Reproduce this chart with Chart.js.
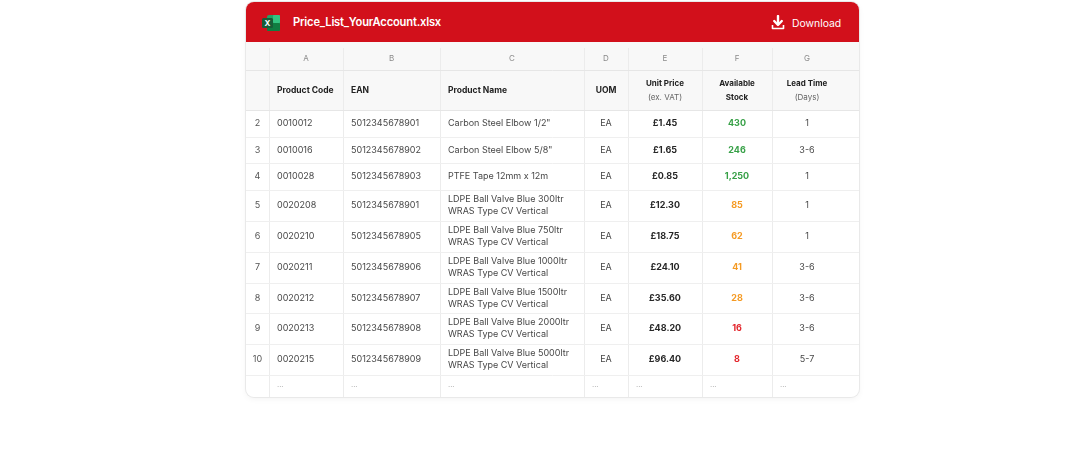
<!DOCTYPE html>
<html>
<head>
<meta charset="utf-8">
<script src="https://cdn.jsdelivr.net/npm/chart.js@4.4.1/dist/chart.umd.min.js"></script>
<style>
  html, body { margin: 0; padding: 0; background: #fff; }
  body { width: 1073px; height: 462px; position: relative; overflow: hidden; font-family: 'Inter', 'Noto Sans', sans-serif; }
  .card {
    position: absolute; left: 246px; top: 2px; width: 613px; height: 395px;
    border-radius: 8px; overflow: hidden; background: #fff;
    box-shadow: 0 0 0 1px #e9e9e9, 0 2px 6px rgba(0,0,0,0.05);
  }
  .bar {
    position: absolute; left: 0; top: 0; width: 613px; height: 40px; background: #d2101b;
    color: #fff;
  }
  .bar .xl { position: absolute; left: 15px; top: 11px; }
  .bar .title { position: absolute; left: 47px; top: 13px; font-size: 11.2px; font-weight: 600; letter-spacing: -0.2px; }
  .bar .dl { position: absolute; left: 525px; top: 13px; }
  .bar .dltext { position: absolute; left: 546px; top: 14.5px; font-size: 10.4px; font-weight: 400; }
  .sheet { position: absolute; left: 0; top: 40px; width: 613px; height: 355px; }
</style>
</head>
<body>
<div class="card">
  <div class="bar">
    <svg class="xl" width="20" height="20" viewBox="0 0 20 20">
      <rect x="6" y="2" width="13" height="16" rx="2" fill="#21a366"/>
      <rect x="12" y="2" width="7" height="8" rx="1" fill="#33c481"/>
      <rect x="6" y="10" width="13" height="8" rx="1" fill="#107c41"/>
      <rect x="1" y="5" width="11" height="10" rx="1.5" fill="#185c37"/>
      <text x="6.5" y="13" font-size="8" font-weight="700" fill="#fff" text-anchor="middle" font-family="Inter, sans-serif">X</text>
    </svg>
    <div class="title">Price_List_YourAccount.xlsx</div>
    <svg class="dl" width="14" height="15" viewBox="0 0 14 15">
      <path d="M7 1 V9" stroke="#fff" stroke-width="2.4" stroke-linecap="round"/>
      <path d="M3.2 6 L7 10 L10.8 6" fill="none" stroke="#fff" stroke-width="2.4" stroke-linecap="round" stroke-linejoin="round"/>
      <path d="M1.5 10 V13.5 H12.5 V10" fill="none" stroke="#fff" stroke-width="1.6" stroke-linejoin="round"/>
    </svg>
    <div class="dltext">Download</div>
  </div>
  <div class="sheet"><canvas id="sheet"></canvas></div>
</div>
<script>
// ---- sheet data ----
const colLetters = ['A', 'B', 'C', 'D', 'E', 'F', 'G'];
const headerLines = [
  ['Product Code'],
  ['EAN'],
  ['Product Name'],
  ['UOM'],
  ['Unit Price', '(ex. VAT)'],
  ['Available', 'Stock'],
  ['Lead Time', '(Days)']
];
const rowNumbers = [2, 3, 4, 5, 6, 7, 8, 9, 10];
const productCodes = ['0010012', '0010016', '0010028', '0020208', '0020210', '0020211', '0020212', '0020213', '0020215'];
const eans = ['5012345678901', '5012345678902', '5012345678903', '5012345678901', '5012345678905',
  '5012345678906', '5012345678907', '5012345678908', '5012345678909'];
const productNames = [
  'Carbon Steel Elbow 1/2"',
  'Carbon Steel Elbow 5/8"',
  'PTFE Tape 12mm x 12m',
  'LDPE Ball Valve Blue 300ltr\nWRAS Type CV Vertical',
  'LDPE Ball Valve Blue 750ltr\nWRAS Type CV Vertical',
  'LDPE Ball Valve Blue 1000ltr\nWRAS Type CV Vertical',
  'LDPE Ball Valve Blue 1500ltr\nWRAS Type CV Vertical',
  'LDPE Ball Valve Blue 2000ltr\nWRAS Type CV Vertical',
  'LDPE Ball Valve Blue 5000ltr\nWRAS Type CV Vertical'
];
const uoms = ['EA', 'EA', 'EA', 'EA', 'EA', 'EA', 'EA', 'EA', 'EA'];
const unitPrices = [1.45, 1.65, 0.85, 12.30, 18.75, 24.10, 35.60, 48.20, 96.40];
const stockLevels = [430, 246, 1250, 85, 62, 41, 28, 16, 8];
const leadTimes = ['1', '3-6', '1', '1', '1', '3-6', '3-6', '3-6', '5-7'];

// ---- layout (sheet units = css px) ----
const colWidths = [23, 74, 97, 144, 44, 74, 70, 70, 17]; // row no., A..G, filler
const letterRowH = 28, headerRowH = 40, oneLineH = 26.7, twoLineH = 30.8, moreRowH = 22;
const PAD = 8;
const letterLineTop = 6;

const colEdges = [0];
colWidths.forEach((w) => colEdges.push(colEdges[colEdges.length - 1] + w));
const rowEdges = [0, letterRowH, letterRowH + headerRowH];
productNames.forEach((n) => {
  const h = n.includes('\n') ? twoLineH : oneLineH;
  rowEdges.push(rowEdges[rowEdges.length - 1] + h);
});
rowEdges.push(rowEdges[rowEdges.length - 1] + moreRowH);
const totalW = colEdges[colEdges.length - 1];
const totalH = rowEdges[rowEdges.length - 1];

const FONT = "'Inter', 'Noto Sans', sans-serif";
const stockColor = (v) => (v >= 100 ? '#36a046' : v >= 20 ? '#f59a23' : '#e3242b');

// cell anchors for the body, one point per cell
const bodyCells = [];
rowNumbers.forEach((r, i) => {
  for (let c = 0; c <= 7; c++) bodyCells.push({ x: (colEdges[c] + colEdges[c + 1]) / 2, y: (rowEdges[i + 2] + rowEdges[i + 3]) / 2 });
});

const sheetPlugin = {
  id: 'sheet',
  beforeDatasetsDraw(chart) {
    const { ctx, scales: { x, y } } = chart;
    const px = (v) => x.getPixelForValue(v);
    const py = (v) => y.getPixelForValue(v);
    ctx.save();
    // header backgrounds
    ctx.fillStyle = '#f8f8f8';
    ctx.fillRect(px(0), py(0), px(totalW) - px(0), py(rowEdges[2]) - py(0));
    // grid lines
    ctx.lineWidth = 1;
    ctx.strokeStyle = '#ececec';
    for (let c = 1; c <= 7; c++) {
      const xx = Math.round(px(colEdges[c])) + 0.5;
      ctx.beginPath(); ctx.moveTo(xx, py(letterLineTop)); ctx.lineTo(xx, py(totalH)); ctx.stroke();
    }
    for (let r = 1; r < rowEdges.length - 1; r++) {
      const yy = Math.round(py(rowEdges[r])) + 0.5;
      ctx.strokeStyle = r <= 2 ? '#e6e6e6' : '#efefef';
      ctx.beginPath(); ctx.moveTo(px(0), yy); ctx.lineTo(px(totalW), yy); ctx.stroke();
    }
    ctx.restore();
  },
  afterDatasetsDraw(chart) {
    const { ctx, scales: { x, y } } = chart;
    const px = (v) => x.getPixelForValue(v);
    const py = (v) => y.getPixelForValue(v);
    const cx = (c) => px((colEdges[c] + colEdges[c + 1]) / 2);
    const lx = (c) => px(colEdges[c] + PAD);
    const cy = (r) => py((rowEdges[r] + rowEdges[r + 1]) / 2);
    ctx.save();
    ctx.textBaseline = 'middle';

    // column letters
    ctx.font = `400 8px ${FONT}`;
    ctx.fillStyle = '#8a8a8a';
    ctx.textAlign = 'center';
    colLetters.forEach((l, i) => ctx.fillText(l, cx(i + 1), py(16.5)));

    // header row
    headerLines.forEach((lines, i) => {
      const c = i + 1;
      const centered = c >= 4;
      ctx.textAlign = centered ? 'center' : 'left';
      const tx = centered ? cx(c) : lx(c);
      const mid = cy(1) + 0.5;
      if (lines.length === 1) {
        ctx.font = `700 8.5px ${FONT}`;
        ctx.fillStyle = '#222';
        ctx.fillText(lines[0], tx, mid);
      } else {
        ctx.font = `700 8px ${FONT}`;
        ctx.fillStyle = '#222';
        ctx.fillText(lines[0], tx, mid - 6.5);
        const sub = lines[1].startsWith('(');
        ctx.font = sub ? `400 8px ${FONT}` : `700 8px ${FONT}`;
        ctx.fillStyle = sub ? '#666' : '#222';
        ctx.fillText(lines[1], tx, mid + 7);
      }
    });

    // body rows
    rowNumbers.forEach((n, i) => {
      const r = i + 2;
      const mid = cy(r);
      ctx.font = `400 9px ${FONT}`;
      ctx.fillStyle = '#555';
      ctx.textAlign = 'center';
      ctx.fillText(String(n), cx(0), mid);

      ctx.fillStyle = '#474747';
      ctx.textAlign = 'left';
      ctx.fillText(productCodes[i], lx(1), mid);
      ctx.fillText(eans[i], lx(2), mid);
      const nameLines = productNames[i].split('\n');
      if (nameLines.length === 1) ctx.fillText(nameLines[0], lx(3), mid);
      else {
        ctx.fillText(nameLines[0], lx(3), mid - 6);
        ctx.fillText(nameLines[1], lx(3), mid + 6);
      }

      ctx.textAlign = 'center';
      ctx.fillText(uoms[i], cx(4), mid);
      ctx.font = `700 9px ${FONT}`;
      ctx.fillStyle = '#262626';
      ctx.fillText('£' + unitPrices[i].toFixed(2), cx(5), mid);
      ctx.fillStyle = stockColor(stockLevels[i]);
      ctx.fillText(stockLevels[i].toLocaleString('en-GB'), cx(6), mid);
      ctx.font = `400 9px ${FONT}`;
      ctx.fillStyle = '#474747';
      ctx.fillText(leadTimes[i], cx(7), mid);
    });

    // trailing "..." row
    const lastRow = rowEdges.length - 2;
    ctx.font = `400 7.5px ${FONT}`;
    ctx.fillStyle = '#9a9a9a';
    ctx.textAlign = 'left';
    for (let c = 1; c <= 7; c++) ctx.fillText('...', lx(c), cy(lastRow) - 1);
    ctx.restore();
  }
};

new Chart(document.getElementById('sheet'), {
  type: 'scatter',
  data: { datasets: [{ data: bodyCells, pointRadius: 0, pointHoverRadius: 0 }] },
  options: {
    responsive: true,
    maintainAspectRatio: false,
    animation: false,
    events: [],
    layout: { padding: 0 },
    plugins: { legend: { display: false }, tooltip: { enabled: false } },
    scales: {
      x: { type: 'linear', display: false, min: 0, max: totalW },
      y: { type: 'linear', display: false, min: 0, max: totalH, reverse: true }
    }
  },
  plugins: [sheetPlugin]
});
</script>
</body>
</html>
